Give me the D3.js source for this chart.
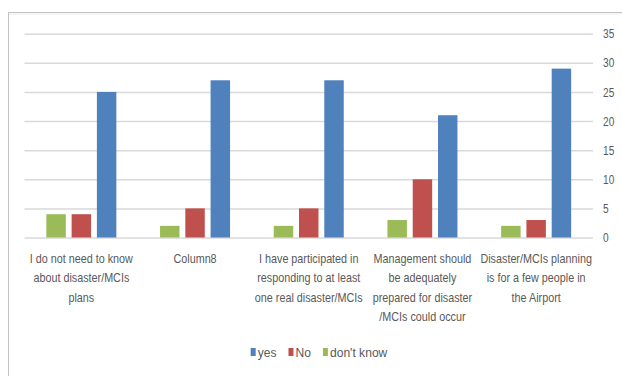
<!DOCTYPE html>
<html>
<head>
<meta charset="utf-8">
<script src="https://cdn.jsdelivr.net/npm/d3@7"></script>
<style>
  html, body { margin: 0; padding: 0; background: #fff; }
  svg { display: block; }
  text { font-family: "Liberation Sans", Arial, sans-serif; fill: #595959; }
</style>
</head>
<body>
<svg id="chart" width="622" height="376"></svg>
<script>
const categories = [
  ["I do not need to know", "about disaster/MCIs", "plans"],
  ["Column8"],
  ["I have participated in", "responding to at least", "one real disaster/MCIs"],
  ["Management should", "be adequately", "prepared for disaster", "/MCIs could occur"],
  ["Disaster/MCIs planning", "is for a few people in", "the Airport"]
];
const seriesNames = ["yes", "No", "don't know"];
const yesValues = [25, 27, 27, 21, 29];
const noValues = [4, 5, 5, 10, 3];
const dontKnowValues = [4, 2, 2, 3, 2];
const yTicks = [0, 5, 10, 15, 20, 25, 30, 35];
const colors = { "yes": "#4F81BD", "No": "#C0504D", "don't know": "#9BBB59" };
const barOrder = ["don't know", "No", "yes"];
const valuesBySeries = { "yes": yesValues, "No": noValues, "don't know": dontKnowValues };

(function () {
const svg = d3.select("#chart");

// frame
svg.append("rect").attr("x", 8.5).attr("y", 12.5).attr("width", 640).attr("height", 400)
  .attr("fill", "none").attr("stroke", "#c3c3c3").attr("stroke-width", 1);
svg.append("line").attr("x1", 9).attr("x2", 640).attr("y1", 14).attr("y2", 14)
  .attr("stroke", "#ececec").attr("stroke-width", 1);

const pLeft = 24.5, pRight = 593, pTop = 33.7, pBottom = 237.5;
const catIdx = categories.map((d, i) => i);
const x0 = d3.scaleBand().domain(catIdx).range([pLeft, pRight]).padding(0);
const groupW = 70;
const x1 = d3.scaleBand().domain(barOrder)
  .range([x0.bandwidth() / 2 - groupW / 2, x0.bandwidth() / 2 + groupW / 2])
  .paddingInner(0.23).paddingOuter(0);
const y = d3.scaleLinear().domain([0, 35]).range([pBottom, pTop]);

// gridlines + right axis
const yAxis = d3.axisRight(y).tickValues(yTicks).tickSize(pRight - pLeft).tickPadding(10);
const ga = svg.append("g").attr("transform", `translate(${pLeft},0)`).call(yAxis);
ga.select(".domain").remove();
ga.selectAll(".tick line").attr("stroke", "#d9d9d9").attr("stroke-width", 1.5);
ga.selectAll(".tick text")
  .attr("font-size", 13).attr("fill", "#595959")
  .style("font-family", '"Liberation Sans", Arial, sans-serif')
  .each(function () {
    const t = d3.select(this);
    const xx = +t.attr("x");
    t.attr("x", 0).attr("transform", `translate(${xx},0) scale(0.78,1)`);
  });

// bars
const groups = svg.append("g").selectAll("g").data(catIdx).join("g")
  .attr("transform", d => `translate(${x0(d)},0)`);
groups.selectAll("rect")
  .data(i => barOrder.map(s => ({ s, v: valuesBySeries[s][i] })))
  .join("rect")
  .attr("x", d => x1(d.s))
  .attr("width", x1.bandwidth())
  .attr("y", d => y(d.v))
  .attr("height", d => y(0) - y(d.v))
  .attr("fill", d => colors[d.s]);

// category labels
const lab = svg.append("g").selectAll("text").data(catIdx).join("text")
  .attr("text-anchor", "middle")
  .attr("font-size", 13)
  .attr("transform", i => `translate(${x0(i) + x0.bandwidth() / 2},263) scale(0.83,1)`);
lab.selectAll("tspan").data(i => categories[i]).join("tspan")
  .attr("x", 0)
  .attr("dy", (d, j) => j === 0 ? 0 : 19.5)
  .text(d => d);

// legend
const legScale = 0.93;
const leg = svg.append("g");
const items = leg.selectAll("g").data(seriesNames).join("g");
items.append("rect").attr("width", 5).attr("height", 8).attr("y", -4.5)
  .attr("fill", d => colors[d]);
items.append("text").attr("dy", "0.35em")
  .attr("transform", `translate(7,0) scale(${legScale},1)`)
  .attr("font-size", 13).text(d => d);
const widths = [];
items.each(function () {
  widths.push(7 + legScale * this.querySelector("text").getComputedTextLength());
});
const gap = 12;
const total = d3.sum(widths) + gap * (widths.length - 1);
const startX = 319 - total / 2;
items.attr("transform", (d, i) => {
  const xx = startX + d3.sum(widths.slice(0, i)) + gap * i;
  return `translate(${xx},352.5)`;
});
})();
</script>
</body>
</html>
